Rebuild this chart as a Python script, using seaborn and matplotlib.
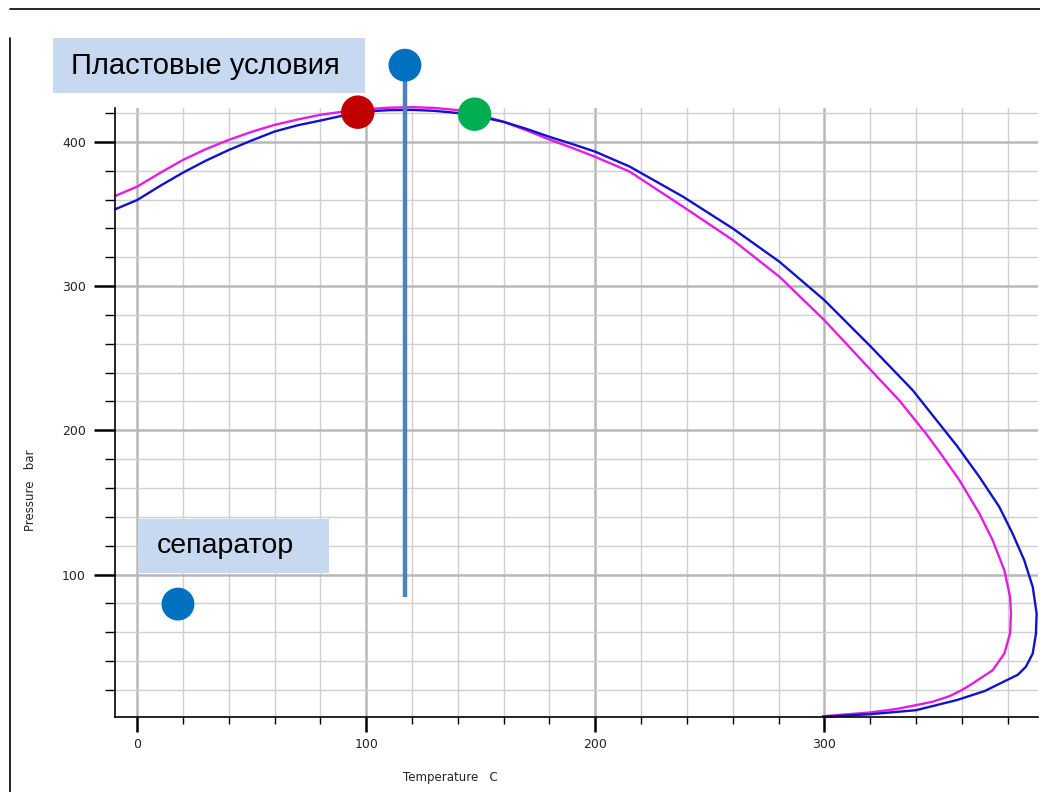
import matplotlib
matplotlib.use("Agg")
import matplotlib.pyplot as plt
from matplotlib.lines import Line2D
from matplotlib.patches import Rectangle
from matplotlib.ticker import MultipleLocator
import seaborn as sns

# ---- data ----
blue_T = [-9.6, 0, 10, 20, 30, 40, 50, 60, 70, 80, 90, 100, 110, 120, 130, 140, 150,
          160, 170, 180, 190, 200, 215, 238.3, 260, 280.4, 300, 319.7, 338.6, 348,
          358, 367.7, 376.4, 382.2, 387.3, 391, 392.7, 392.4, 391, 388, 384.5, 380,
          370, 358, 340, 319.7, 299.3]
blue_P = [353.3, 359.7, 369.5, 378.7, 387, 394.4, 401, 407.2, 411.5, 414.8, 418.3,
          421.1, 422, 422.2, 421.5, 420.0, 417.3, 413.9, 409, 403.5, 398.5, 393.2, 382.9,
          362, 340, 316.9, 290.3, 259, 227.8, 209, 189, 167.7, 146.9, 128.4, 109.9, 91.4,
          72.9, 59.1, 45.2, 36, 30.5, 27, 19.2, 13, 5.9, 3.1, 1.4]

mag_T = [-9.6, 0, 10, 20, 30, 40, 50, 60, 70, 80, 90, 100, 110, 120, 130, 140, 150,
         160, 170, 180, 190, 200, 215, 238.3, 260, 280.4, 300, 319.7, 332.7, 344.4,
         350.3, 359, 367.7, 373.5, 378.6, 381.1, 381.5, 381.1, 378.6, 373.5, 364.7,
         360, 354.6, 347.3, 340, 331.3, 319.7, 299.3]
mag_P = [362.5, 369, 378.5, 387.5, 395, 401.4, 407, 411.8, 415.5, 418.8, 421, 422.7,
         423.7, 424.1, 423.5, 422.0, 418.5, 413.9, 408, 401.6, 395.8, 389.6, 379.4,
         355.1, 332, 306.5, 276.4, 242.8, 220.8, 197.7, 185, 165.4, 142.3, 123.8, 103,
         84.5, 73, 59.1, 45.2, 33.6, 24.4, 19.8, 15.6, 11.8, 9.4, 6.7, 4.3, 1.7]

reservoir_T = 116.9
reservoir_P_top = 453.2
reservoir_P_bottom = 84.3
separator_T = [17.8]
separator_P = [79.5]
red_T, red_P = [96.3], [420.6]
green_T, green_P = [147.3], [419.2]

x_ticks = [0, 100, 200, 300]
y_ticks = [100, 200, 300, 400]
label_reservoir = "Пластовые условия"
label_separator = "сепаратор"
xlabel = "Temperature   C"
ylabel = "Pressure   bar"

sns.set_style("white")
plt.rcParams['font.family'] = ['DejaVu Sans']

W, H = 1040, 792
fig = plt.figure(figsize=(W / 100, H / 100), dpi=100)
ax = fig.add_axes([115 / W, 1 - 717 / H, (1038 - 115) / W, (717 - 108) / H])

ax.set_xlim(-9.7, 393.3)
ax.set_ylim(1.2, 423.5)

# grid
ax.xaxis.set_minor_locator(MultipleLocator(20))
ax.yaxis.set_minor_locator(MultipleLocator(20))
ax.set_xticks(x_ticks)
ax.set_yticks(y_ticks)
ax.grid(which='minor', color='#cfcfcf', linewidth=1.0)
ax.grid(which='major', color='#b8b8b8', linewidth=1.8)
ax.set_axisbelow(True)

sns.lineplot(x=mag_T, y=mag_P, sort=False, estimator=None, ax=ax,
             color='#e31de3', linewidth=1.7, clip_on=False)
sns.lineplot(x=blue_T, y=blue_P, sort=False, estimator=None, ax=ax,
             color='#1212cc', linewidth=1.7, clip_on=False)

# reservoir vertical line
ax.plot([reservoir_T, reservoir_T], [reservoir_P_bottom, reservoir_P_top],
        color='#4f81bd', linewidth=3.2, clip_on=False, solid_capstyle='butt', zorder=4)
sns.scatterplot(x=[reservoir_T], y=[reservoir_P_top], ax=ax, s=560, color='#0070c0',
                edgecolor='none', clip_on=False, zorder=5)
sns.scatterplot(x=separator_T, y=separator_P, ax=ax, s=560, color='#0070c0',
                edgecolor='none', zorder=5)
sns.scatterplot(x=red_T, y=red_P, ax=ax, s=580, color='#c00000',
                edgecolor='none', clip_on=False, zorder=5)
sns.scatterplot(x=green_T, y=green_P, ax=ax, s=580, color='#00b050',
                edgecolor='none', clip_on=False, zorder=5)

# spines & ticks
for s in ['top', 'right']:
    ax.spines[s].set_visible(False)
for s in ['left', 'bottom']:
    ax.spines[s].set_color('black')
    ax.spines[s].set_linewidth(1.2)
ax.tick_params(axis='x', which='major', direction='out', length=11, width=1.8,
               color='black', labelsize=9, labelcolor='#222222', pad=4, bottom=True)
ax.tick_params(axis='x', which='minor', direction='out', length=5, width=1.0,
               color='black', bottom=True)
ax.tick_params(axis='y', which='major', direction='out', length=15, width=1.8,
               color='black', labelsize=9, labelcolor='#222222', pad=6, left=True)
ax.tick_params(axis='y', which='minor', direction='out', length=7.5, width=1.0,
               color='black', left=True)
ax.set_xticklabels([str(v) for v in x_ticks])
ax.set_yticklabels([str(v) for v in y_ticks])

fig.text(450 / W, 1 - 778 / H, xlabel, ha='center', va='center', fontsize=8.5,
         color='#222222')
fig.text(31 / W, 1 - 490 / H, ylabel, ha='center', va='center', fontsize=8.5,
         rotation=90, color='#222222')

# label boxes
fig.patches.append(Rectangle((53 / W, 1 - 93 / H), (365 - 53) / W, (93 - 38) / H,
                             transform=fig.transFigure, facecolor='#c6d9f1',
                             edgecolor='none', zorder=0))
fig.text(71 / W, 1 - 66 / H, label_reservoir, ha='left', va='center', fontsize=21,
         family='Liberation Sans', color='black')
fig.patches.append(Rectangle((138 / W, 1 - 573 / H), (329 - 138) / W, (573 - 519) / H,
                             transform=fig.transFigure, facecolor='#c6d9f1',
                             edgecolor='none', zorder=0))
fig.text(157 / W, 1 - 546 / H, label_separator, ha='left', va='center', fontsize=20.5,
         family='Liberation Sans', color='black')

# outer frame lines
fig.add_artist(Line2D([10 / W, 1.0], [1 - 9 / H, 1 - 9 / H], transform=fig.transFigure,
                      color='black', linewidth=1.2))
fig.add_artist(Line2D([10 / W, 10 / W], [1 - 38 / H, 0], transform=fig.transFigure,
                      color='black', linewidth=1.2))

fig.savefig('out.png', dpi=100)
